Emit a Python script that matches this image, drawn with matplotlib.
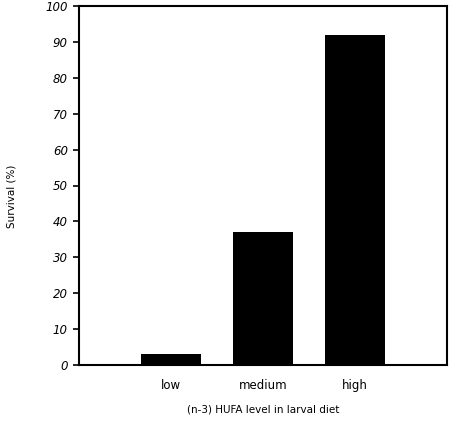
import matplotlib
matplotlib.use("Agg")
import matplotlib.pyplot as plt

categories = ["low", "medium", "high"]
survival = [3, 37, 92]
y_ticks = [0, 10, 20, 30, 40, 50, 60, 70, 80, 90, 100]

fig = plt.figure(figsize=(4.5, 4.21), dpi=100)
ax = fig.add_axes([79/450, 1-365/421, 368/450, 359/421])
x = list(range(len(categories)))
ax.bar(x, survival, width=0.66, color="black")
ax.set_xlim(-1, 3)
ax.set_ylim(0, 100)
ax.set_yticks(y_ticks)
ax.set_yticklabels([str(t) for t in y_ticks], fontsize=8.5, style="italic", family="DejaVu Sans")
ax.set_xticks(x)
ax.set_xticklabels(categories, fontsize=8.5, family="DejaVu Sans")
ax.tick_params(axis="x", length=0, pad=10)
ax.tick_params(axis="y", direction="out", length=4, width=1.2, pad=4)
for s in ax.spines.values():
    s.set_linewidth(1.5)
ax.set_ylabel("Survival (%)", fontsize=7.5, va="center")
ax.yaxis.set_label_coords(-0.183, 0.47)
ax.set_xlabel("(n-3) HUFA level in larval diet", fontsize=7.5, va="center")
ax.xaxis.set_label_coords(0.5, -0.125)
fig.savefig("out.png", dpi=100)
